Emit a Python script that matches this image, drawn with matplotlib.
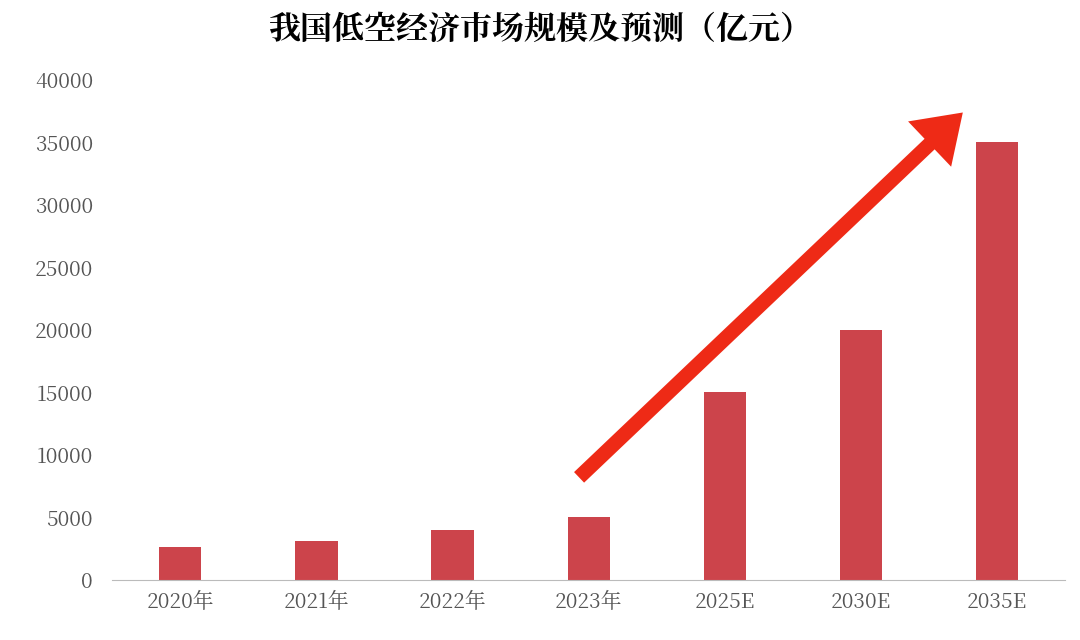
import matplotlib
matplotlib.use("Agg")
import matplotlib.pyplot as plt
from matplotlib import font_manager

categories = ["2020年", "2021年", "2022年", "2023年", "2025E", "2030E", "2035E"]
values = [2600, 3100, 4000, 5000, 15000, 20000, 35000]
yticks = [0, 5000, 10000, 15000, 20000, 25000, 30000, 35000, 40000]

cjk = None
for f in font_manager.fontManager.ttflist:
    if "CJK" in f.name and ("SC" in f.name or cjk is None):
        cjk = f.name
        if "SC" in f.name:
            break
if cjk is None:
    for path in font_manager.findSystemFonts():
        if "CJK" in path:
            font_manager.fontManager.addfont(path)
            cjk = font_manager.FontProperties(fname=path).get_name()
            break
plt.rcParams["font.family"] = [cjk, "DejaVu Sans"] if cjk else ["DejaVu Sans"]

fig = plt.figure(figsize=(10.8, 6.4), dpi=100)
ax = fig.add_axes([0.104, 0.094, 0.882, 0.781])
x = range(len(categories))
ax.bar(x, values, width=0.31, color="#CC444B")
ax.set_xlim(-0.5, len(categories) - 0.5)
ax.set_ylim(0, 40000)
ax.set_yticks(yticks)
ax.set_yticklabels([str(v) for v in yticks])
ax.set_xticks(list(x))
ax.set_xticklabels(categories)
ax.tick_params(axis="both", length=0, labelsize=15, colors="#555555", pad=8)
ax.tick_params(axis="y", pad=14)
for s in ["top", "right", "left"]:
    ax.spines[s].set_visible(False)
ax.spines["bottom"].set_color("#BBBBBB")
ax.annotate("", xy=(5.75, 37400), xytext=(2.93, 8200),
            arrowprops=dict(arrowstyle="simple,head_length=1.1,head_width=1.5,tail_width=0.35",
                            mutation_scale=30, color="#EE2A16", lw=0,
                            shrinkA=0, shrinkB=0))
fig.text(0.5, 0.953, "我国低空经济市场规模及预测（亿元）", ha="center", va="center",
         fontsize=23, fontweight="bold", color="#000000")
fig.savefig("out.png", dpi=100)
